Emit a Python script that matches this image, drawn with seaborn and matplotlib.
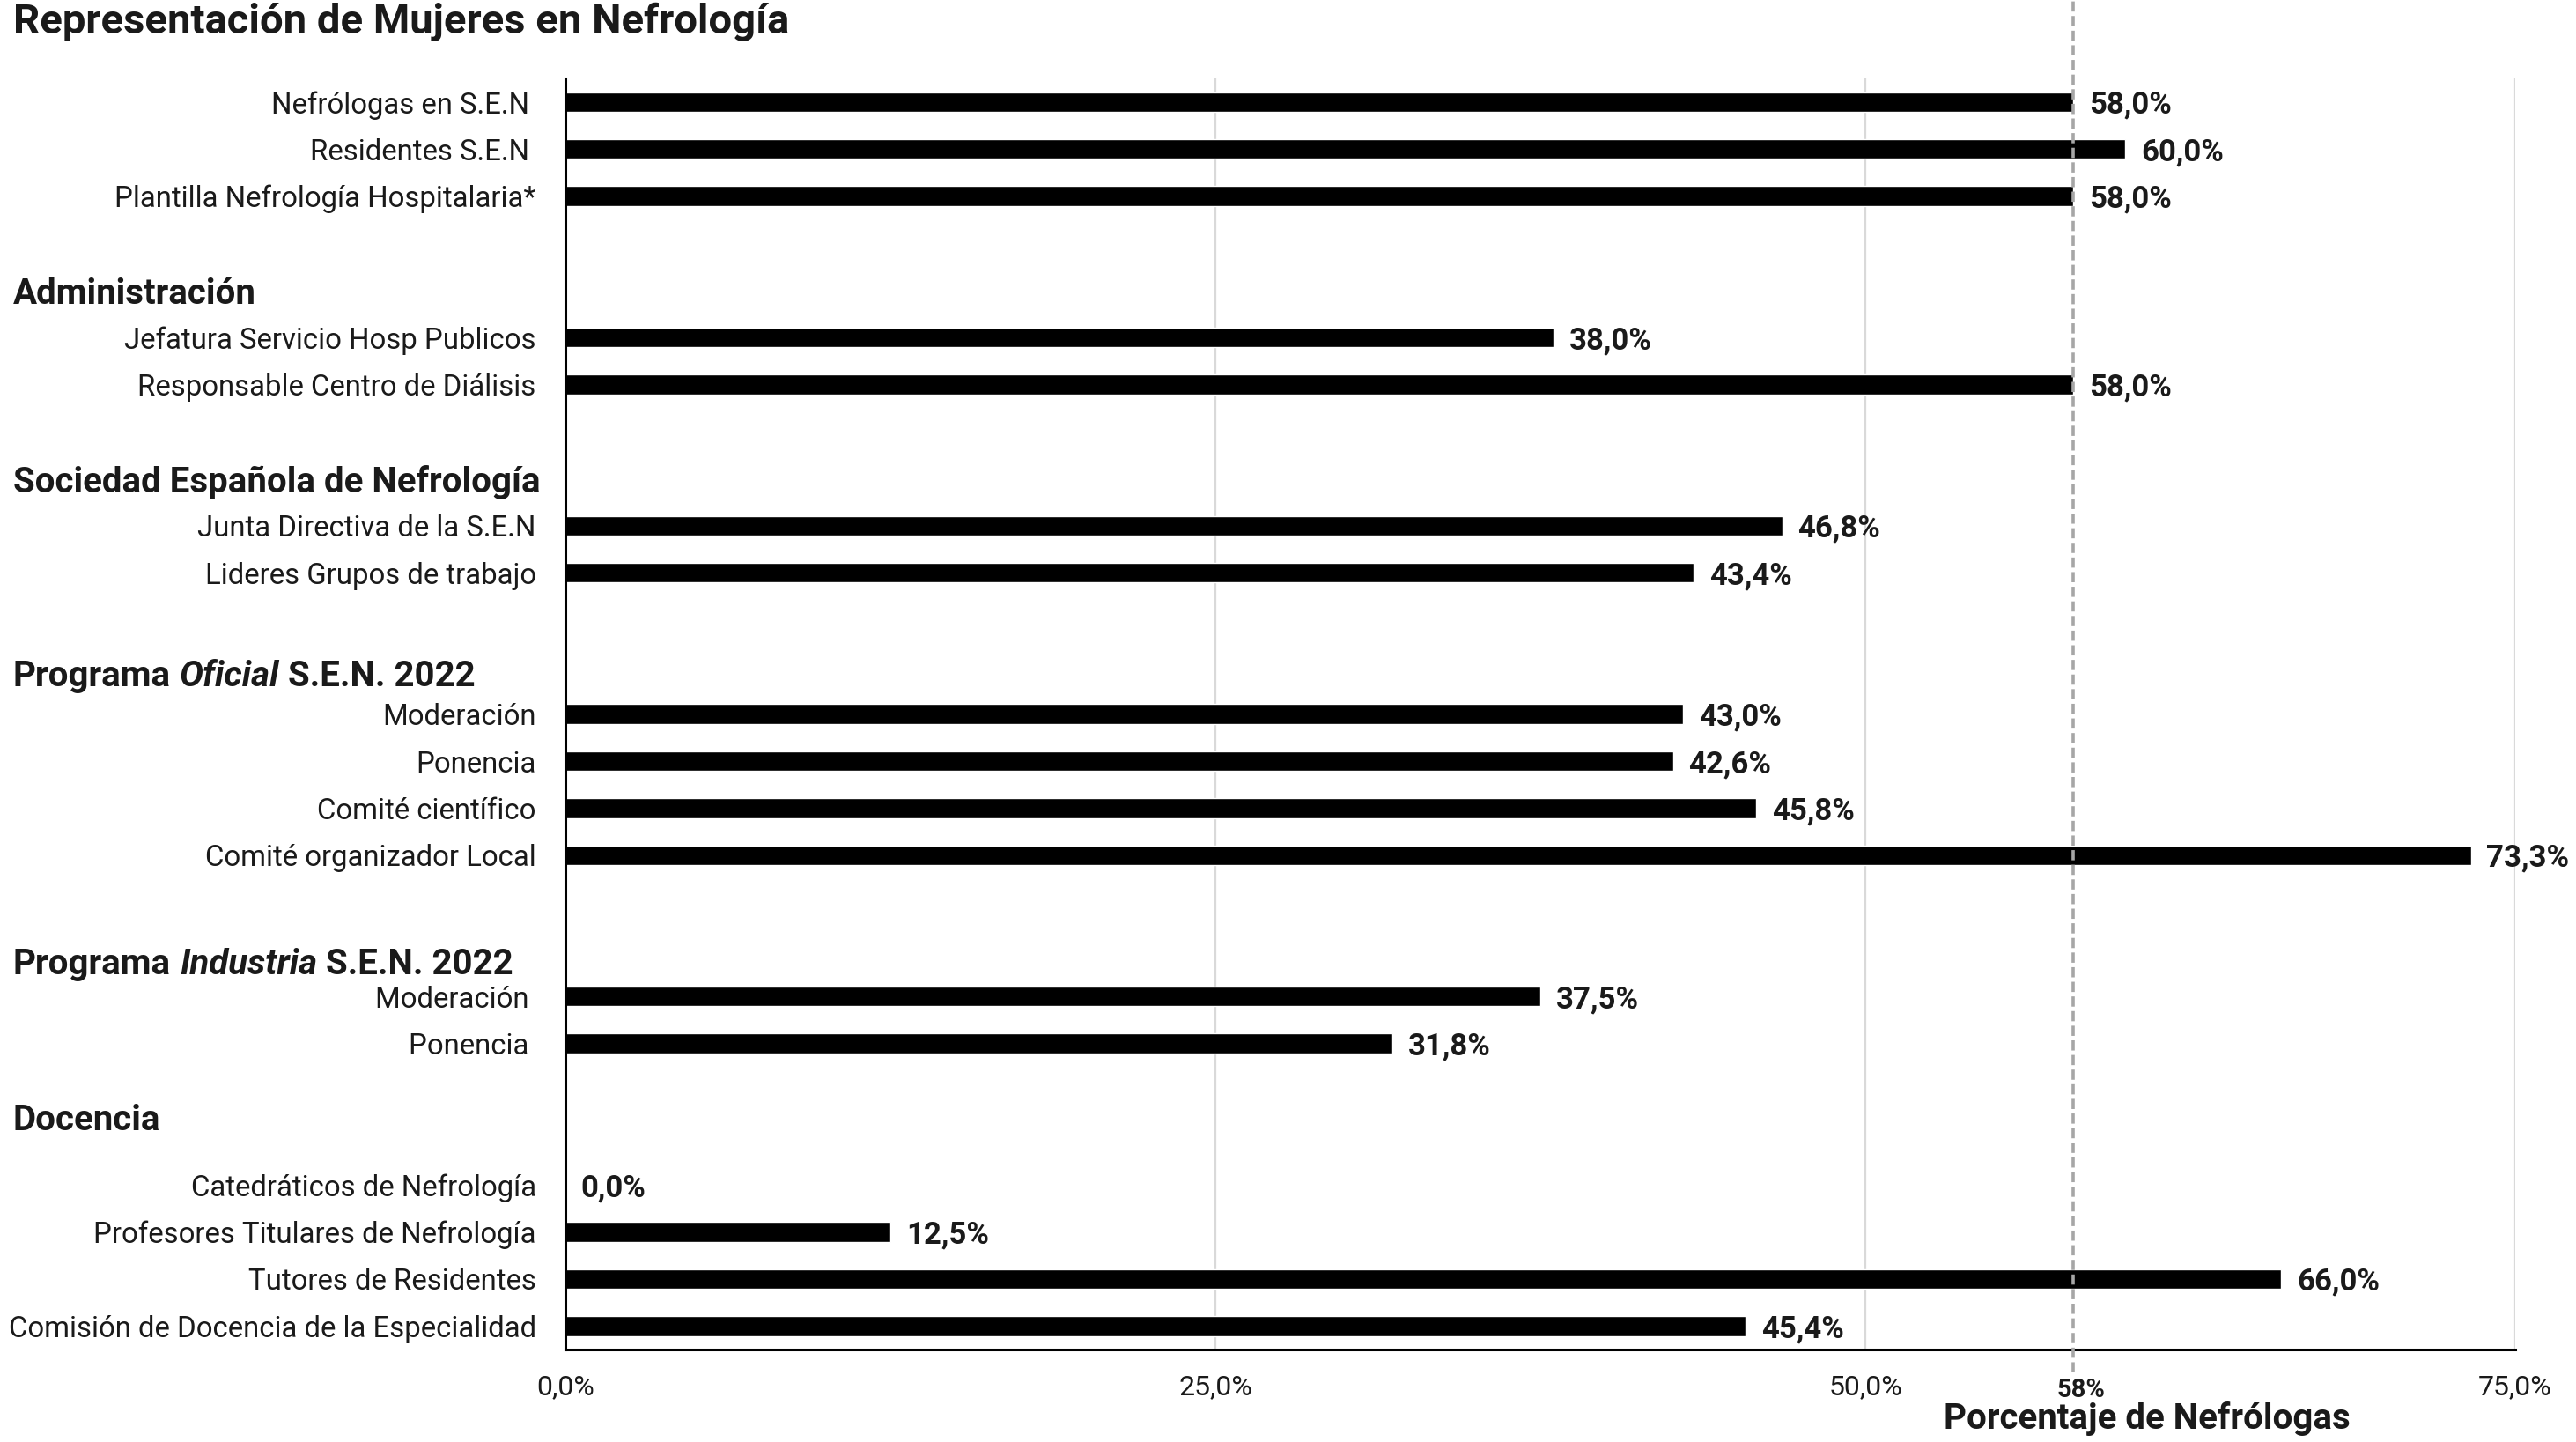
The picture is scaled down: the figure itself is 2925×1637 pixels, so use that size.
import matplotlib
matplotlib.use("Agg")
import matplotlib.pyplot as plt
import matplotlib.transforms as mtransforms
from matplotlib import font_manager
import pandas as pd
import seaborn as sns

# Datos
grupos = [
    "",
    "Administración",
    "Sociedad Española de Nefrología",
    "Programa Oficial S.E.N. 2022",
    "Programa Industria S.E.N. 2022",
    "Docencia",
]
grupos_cursiva = [None, None, None, "Oficial", "Industria", None]

categorias = [
    "Nefrólogas en S.E.N ",
    "Residentes S.E.N ",
    "Plantilla Nefrología Hospitalaria*",
    "Jefatura Servicio Hosp Publicos",
    "Responsable Centro de Diálisis",
    "Junta Directiva de la S.E.N",
    "Lideres Grupos de trabajo",
    "Moderación",
    "Ponencia",
    "Comité científico",
    "Comité organizador Local",
    "Moderación ",
    "Ponencia ",
    "Catedráticos de Nefrología",
    "Profesores Titulares de Nefrología",
    "Tutores de Residentes",
    "Comisión de Docencia de la Especialidad",
]
grupo_de_categoria = [0, 0, 0, 1, 1, 2, 2, 3, 3, 3, 3, 4, 4, 5, 5, 5, 5]
valores = [58.0, 60.0, 58.0, 38.0, 58.0, 46.8, 43.4, 43.0, 42.6, 45.8, 73.3,
           37.5, 31.8, 0.0, 12.5, 66.0, 45.4]

referencia = 58
ticks_x = [0, 25, 50, 75]

# fuente parecida a Calibri
nombres = {f.name for f in font_manager.fontManager.ttflist}
fuente = next((f for f in ["Roboto", "Lato", "Open Sans"] if f in nombres), "DejaVu Sans")

sns.set_theme(style="white")
plt.rcParams["font.family"] = [fuente, "DejaVu Sans"]
plt.rcParams["text.color"] = "#1a1a1a"

# orden de filas: un hueco y una fila de título antes de cada grupo
orden = []
filas_titulo = {}
for g in range(len(grupos)):
    if grupos[g]:
        orden.append(f"_vacio{g}")
        filas_titulo[g] = len(orden)
        orden.append(f"_titulo{g}")
    orden += [c for c, gg in zip(categorias, grupo_de_categoria) if gg == g]

df = pd.DataFrame({"categoria": categorias, "valor": valores})

fig = plt.figure(figsize=(29.25, 16.37), dpi=100)
ax = fig.add_axes([0.2195, 0.0641, 0.9764 - 0.2195, 0.9456 - 0.0641])

sns.barplot(data=df, x="valor", y="categoria", order=orden, orient="y",
            color="black", saturation=1, width=0.42, ax=ax)

ax.set_xlim(0, 75)
ax.set_ylim(len(orden) - 0.5, -0.5)
ax.set_xticks(ticks_x)
ax.set_xticklabels([f"{t:.1f}%".replace(".", ",") for t in ticks_x])
ax.set_yticks(range(len(orden)))
ax.set_yticklabels(["" if o.startswith("_") else o for o in orden])
ax.tick_params(axis="y", length=0, pad=24, labelsize=23.7, labelcolor="#1a1a1a")
ax.tick_params(axis="x", length=0, pad=20, labelsize=23, labelcolor="#1a1a1a")
ax.set_xlabel("")
ax.set_ylabel("")

for t in ticks_x[1:]:
    ax.axvline(t, color="#d9d9d9", lw=1.6, zorder=0)

sns.despine(ax=ax, top=True, right=True)
for lado in ["left", "bottom"]:
    ax.spines[lado].set_color("black")
    ax.spines[lado].set_linewidth(2.2)

# etiquetas de valor
for c, v in zip(categorias, valores):
    ax.text(v + 0.6, orden.index(c), f"{v:.1f}%".replace(".", ","),
            va="center_baseline", ha="left", fontsize=25, fontweight="bold")

# línea de referencia 58%
ax.axvline(referencia, ymin=-0.018, ymax=1.085, color="#a6a6a6", lw=2.6,
           dashes=(3.2, 1.4), clip_on=False, zorder=3)
trans_xa = mtransforms.blended_transform_factory(ax.transData, ax.transAxes)
ax.annotate(f"{referencia}%", xy=(referencia, -0.032), xycoords=trans_xa,
            xytext=(6, 0), textcoords="offset points", ha="center",
            va="center", fontsize=21, fontweight="bold")

fig.text(0.8335, 0.0160, "Porcentaje de Nefrólogas", ha="center", va="center",
         fontsize=29, fontweight="bold")
fig.text(0.005, 0.985, "Representación de Mujeres en Nefrología", ha="left",
         va="center", fontsize=34, fontweight="bold")

# títulos de grupo
renderer = fig.canvas.get_renderer()
trans_fy = mtransforms.blended_transform_factory(fig.transFigure, ax.transData)
desfase = {3: 0.12, 4: 0.25, 5: -0.45}
x0 = 0.005
tam_grupo = 29
hueco = tam_grupo * 0.25 * fig.dpi / 72
for g, fila in filas_titulo.items():
    y = fila + desfase.get(g, 0)
    cursiva = grupos_cursiva[g]
    if cursiva is None:
        partes = [(grupos[g], "normal")]
    else:
        antes, despues = grupos[g].split(cursiva)
        partes = [(antes.strip(), "normal"), (cursiva, "italic"), (despues.strip(), "normal")]
    x = x0
    for texto, estilo in partes:
        t = ax.text(x, y, texto, transform=trans_fy, ha="left", va="center_baseline",
                    fontsize=tam_grupo, fontweight="bold", style=estilo)
        bb = t.get_window_extent(renderer)
        x = fig.transFigure.inverted().transform((bb.x1 + hueco, 0))[0]

fig.savefig("out.png", dpi=100, facecolor="white")
